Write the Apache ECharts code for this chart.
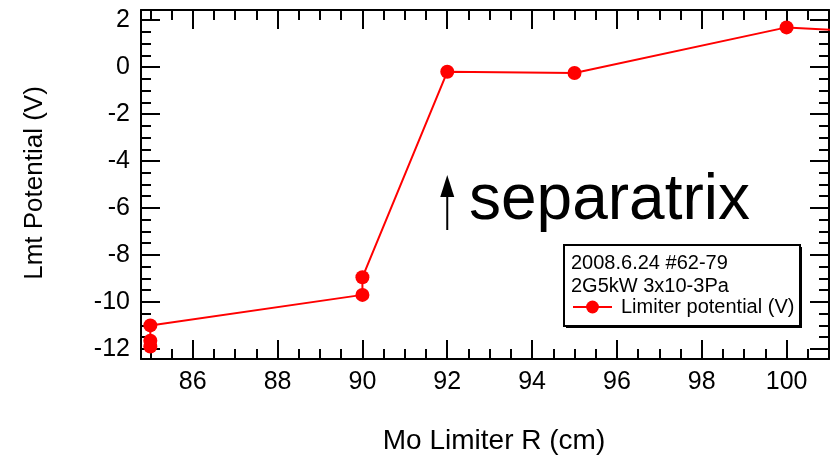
<!DOCTYPE html>
<html><head><meta charset="utf-8">
<script src="https://cdn.jsdelivr.net/npm/echarts@6/dist/echarts.min.js"></script>
<style>html,body{margin:0;padding:0;background:#fff}#c{width:835px;height:455px}</style>
</head><body><div id="c"></div>
<script>
// ---- data ----
const radius    = [85, 85, 85, 90, 90, 92, 95, 100, 102];
const potential = [-11.9, -11.65, -11.0, -9.7, -8.95, -0.2, -0.25, 1.69, 1.5];
const xRange = [84.78, 101];
const yRange = [-12.43, 2.43];
const infoLines = ['2008.6.24 #62-79', '2G5kW 3x10-3Pa'];
const seriesName = 'Limiter potential (V)';
const xTitle = 'Mo Limiter R (cm)';
const yTitle = 'Lmt Potential (V)';
const annotation = 'separatrix';
const annotationX = 92;

const FONT = '"Liberation Sans", Arial, sans-serif';
const BLACK = '#000';
const RED = '#ff0000';

function labelFmt(v) {
  const r = Math.round(v);
  return (Math.abs(v - r) < 1e-6 && r % 2 === 0) ? String(r) : '';
}
function axis(pos, split, major, showLabel, range) {
  return {
    type: 'value', position: pos, min: range[0], max: range[1], splitNumber: split,
    axisLine: { show: major, onZero: false, lineStyle: { color: BLACK, width: 2 } },
    axisTick: { show: true, inside: true, length: major ? 19 : 10, lineStyle: { color: BLACK, width: 2 } },
    axisLabel: { show: showLabel, fontSize: 25, color: BLACK, fontFamily: FONT, margin: 11, formatter: labelFmt },
    splitLine: { show: false }, minorTick: { show: false }
  };
}

const chart = echarts.init(document.getElementById('c'), null, { renderer: 'canvas' });
const option = {
  backgroundColor: '#fff',
  animation: false,
  grid: { left: 141, right: 6, top: 10, bottom: 96, containLabel: false, outerBoundsMode: 'none' },
  xAxis: [
    axis('bottom', 8, true, true, xRange),
    axis('bottom', 32, false, false, xRange),
    axis('top', 8, true, false, xRange),
    axis('top', 32, false, false, xRange)
  ],
  yAxis: [
    axis('left', 7, true, true, yRange),
    axis('left', 30, false, false, yRange),
    axis('right', 7, true, false, yRange),
    axis('right', 30, false, false, yRange)
  ],
  legend: {
    data: [seriesName], left: 572, top: 297, z: 30, itemWidth: 39, itemHeight: 16, padding: 0,
    textStyle: { fontSize: 20, color: BLACK, fontFamily: FONT, padding: [0, 0, 0, 4] }
  },
  series: [{
    name: seriesName, type: 'line', xAxisIndex: 0, yAxisIndex: 0,
    data: radius.map((r, i) => [r, potential[i]]),
    symbol: 'circle', symbolSize: 14, clip: true,
    lineStyle: { color: RED, width: 2 }, itemStyle: { color: RED }
  }]
};
chart.setOption(option);

const ax = chart.convertToPixel({ xAxisIndex: 0 }, annotationX);
chart.setOption({
  graphic: [
    { type: 'text', x: 494, y: 441, style: { text: xTitle, font: '28px ' + FONT, fill: BLACK, align: 'center', verticalAlign: 'middle' } },
    { type: 'text', x: 35, y: 183, rotation: Math.PI / 2, style: { text: yTitle, font: '26px ' + FONT, fill: BLACK, align: 'center', verticalAlign: 'middle' } },
    { type: 'line', shape: { x1: ax, y1: 230, x2: ax, y2: 192 }, style: { stroke: BLACK, lineWidth: 2 } },
    { type: 'polygon', shape: { points: [[ax, 175], [ax - 7, 197], [ax + 7, 197]] }, style: { fill: BLACK } },
    { type: 'text', x: 469, y: 201, style: { text: annotation, font: '64px ' + FONT, fill: BLACK, align: 'left', verticalAlign: 'middle' } },
    { type: 'rect', shape: { x: 566, y: 247, width: 236, height: 81 }, style: { fill: BLACK }, z: 10 },
    { type: 'rect', shape: { x: 564, y: 245, width: 236, height: 81 }, style: { fill: '#fff', stroke: BLACK, lineWidth: 2 }, z: 11 },
    { type: 'text', x: 571, y: 263, z: 12, style: { text: infoLines[0], font: '20px ' + FONT, fill: BLACK, align: 'left', verticalAlign: 'middle' } },
    { type: 'text', x: 571, y: 286, z: 12, style: { text: infoLines[1], font: '20px ' + FONT, fill: BLACK, align: 'left', verticalAlign: 'middle' } }
  ]
});
</script></body></html>
